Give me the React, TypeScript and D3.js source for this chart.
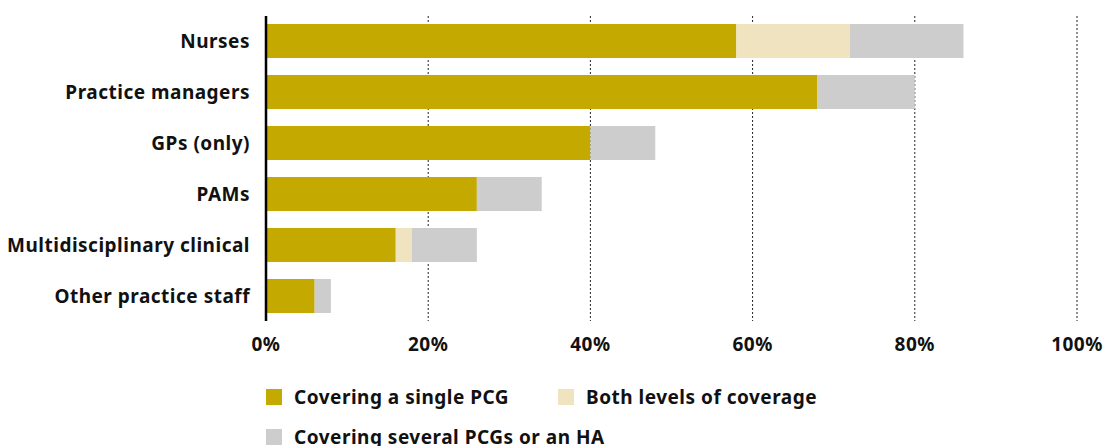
import React from "react";
import * as d3 from "d3";

const categories = [
  "Nurses",
  "Practice managers",
  "GPs (only)",
  "PAMs",
  "Multidisciplinary clinical",
  "Other practice staff",
];
const singlePCG = [58, 68, 40, 26, 16, 6];
const bothLevels = [14, 0, 0, 0, 2, 0];
const severalPCGs = [14, 12, 8, 8, 8, 2];
const seriesNames = [
  "Covering a single PCG",
  "Both levels of coverage",
  "Covering several PCGs or an HA",
];
const seriesColors = ["#C4AA00", "#F0E4C0", "#CDCDCD"];
const xTicks = [0, 20, 40, 60, 80, 100];

const W = 1107;
const H = 446;
const FONT = "'Noto Sans', 'Open Sans', sans-serif";
const FS = 19;
const LS = 0.5;

export default function App() {
  const x = d3.scaleLinear().domain([0, 100]).range([266, 1077]);
  const y = d3
    .scaleBand<string>()
    .domain(categories)
    .range([15.5, 321.5])
    .paddingInner(1 / 3)
    .paddingOuter(1 / 6);

  const rows = categories.map((c, i) => ({
    category: c,
    single: singlePCG[i],
    both: bothLevels[i],
    several: severalPCGs[i],
  }));
  const stack = d3.stack<any>().keys(["single", "both", "several"]);
  const layers = stack(rows);

  const legend = [
    { name: seriesNames[0], color: seriesColors[0], x: 266, y: 389 },
    { name: seriesNames[1], color: seriesColors[1], x: 558, y: 389 },
    { name: seriesNames[2], color: seriesColors[2], x: 266, y: 429 },
  ];

  return (
    <svg
      width={W}
      height={H}
      style={{ position: "absolute", left: 0, top: 0, background: "#fff" }}
      fontFamily={FONT}
    >
      {/* dotted gridlines */}
      {xTicks
        .filter((t) => t > 0)
        .map((t) => (
          <line
            key={t}
            x1={x(t)}
            x2={x(t)}
            y1={16}
            y2={321}
            stroke="#222"
            strokeWidth={1}
            strokeDasharray="2,2"
          />
        ))}
      {/* stacked bars */}
      {layers.map((layer, li) =>
        layer.map((d, i) =>
          d[1] - d[0] > 0 ? (
            <rect
              key={`${li}-${i}`}
              x={x(d[0])}
              width={x(d[1]) - x(d[0])}
              y={y(categories[i])}
              height={y.bandwidth()}
              fill={seriesColors[li]}
            />
          ) : null
        )
      )}
      {/* axis line */}
      <line x1={266} x2={266} y1={16} y2={321} stroke="#000" strokeWidth={2.5} />
      {/* category labels */}
      {categories.map((c) => (
        <text
          key={c}
          x={250}
          y={(y(c) ?? 0) + y.bandwidth() / 2}
          dy="0.35em"
          textAnchor="end"
          fontSize={FS}
          fontWeight={700}
          letterSpacing={LS}
          fill="#111"
        >
          {c}
        </text>
      ))}
      {/* tick labels */}
      {xTicks.map((t) => (
        <text
          key={t}
          x={x(t)}
          y={351}
          textAnchor="middle"
          fontSize={FS}
          fontWeight={700}
          letterSpacing={LS}
          fill="#111"
        >
          {`${t}%`}
        </text>
      ))}
      {/* legend */}
      {legend.map((l) => (
        <g key={l.name}>
          <rect x={l.x} y={l.y} width={16} height={16} fill={l.color} />
          <text
            x={l.x + 28}
            y={l.y + 15}
            fontSize={FS}
            fontWeight={700}
            letterSpacing={LS}
            fill="#111"
          >
            {l.name}
          </text>
        </g>
      ))}
    </svg>
  );
}
